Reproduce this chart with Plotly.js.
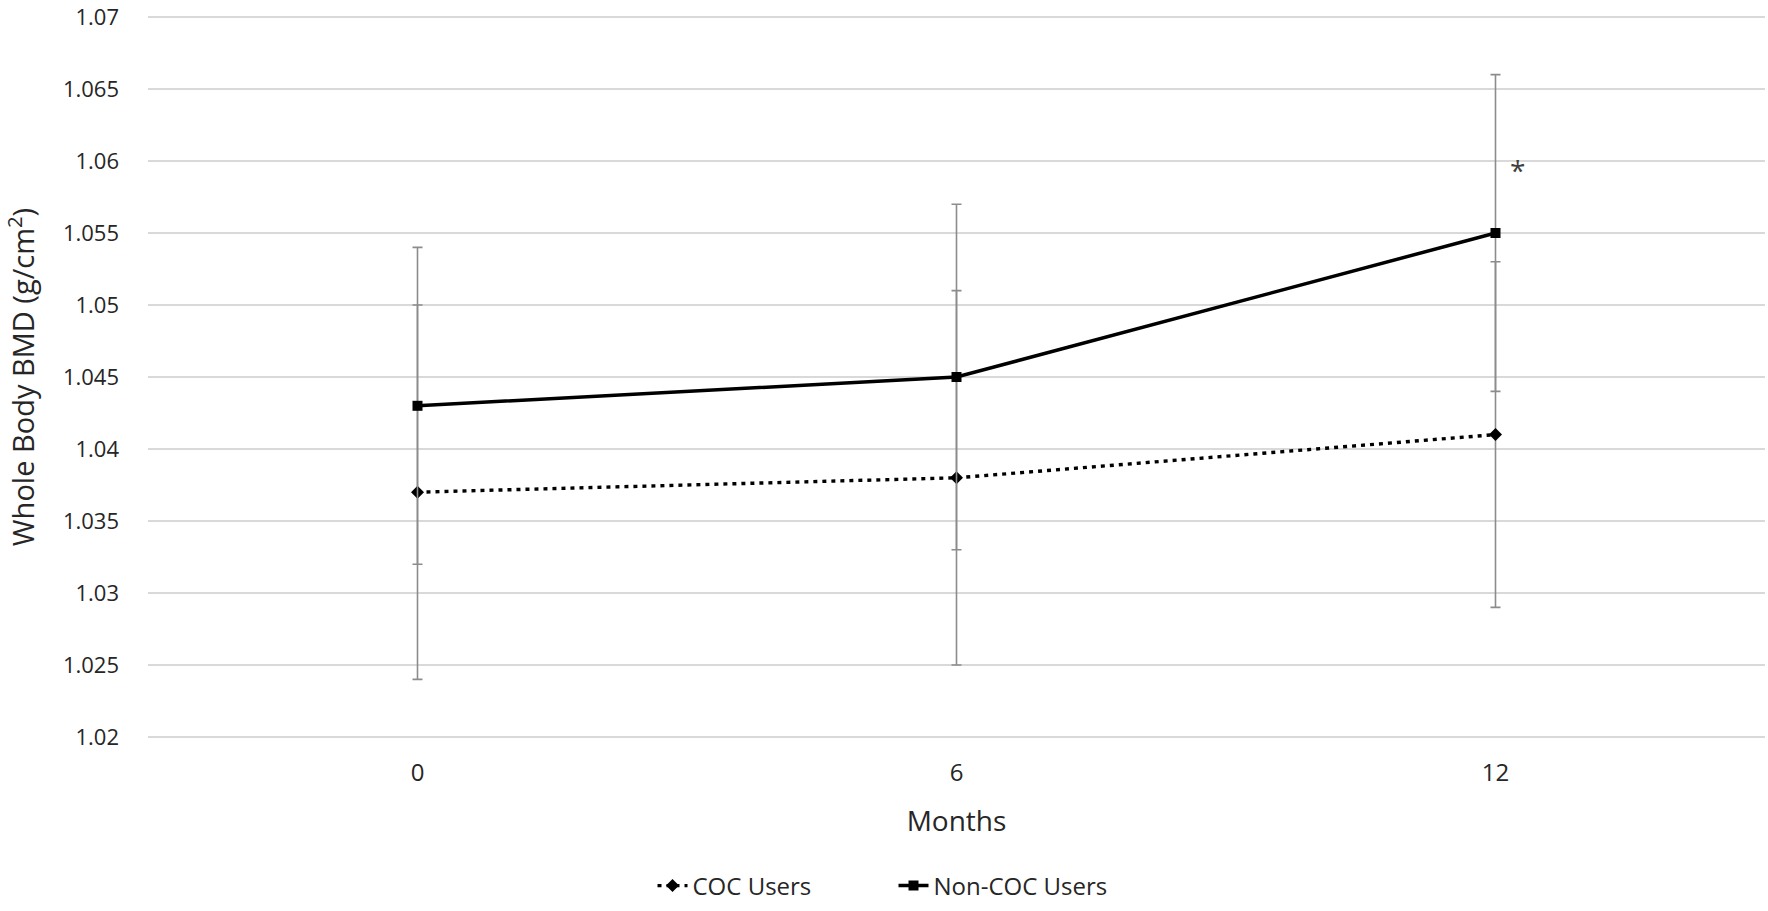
<!DOCTYPE html>
<html>
<head>
<meta charset="utf-8">
<script src="https://cdn.plot.ly/plotly-3.0.1.min.js"></script>
<style>html,body{margin:0;padding:0;background:#fff;}#chart{width:1768px;height:911px;}</style>
</head>
<body>
<div id="chart"></div>
<script>
const months = [0, 6, 12];
const monthLabels = ['0', '6', '12'];
const cocMean = [1.037, 1.038, 1.041];
const cocErr = [0.013, 0.013, 0.012];
const nonCocMean = [1.043, 1.045, 1.055];
const nonCocErr = [0.011, 0.012, 0.011];
const seriesNames = ['COC Users', 'Non-COC Users'];
const yTicks = [1.02, 1.025, 1.03, 1.035, 1.04, 1.045, 1.05, 1.055, 1.06, 1.065, 1.07];
const yTickLabels = ['1.02', '1.025', '1.03', '1.035', '1.04', '1.045', '1.05', '1.055', '1.06', '1.065', '1.07'];
const sigMonth = 12;
const sigLabel = '*';

const FONT = 'Open Sans, Lato, sans-serif';
const errStyle = {type: 'data', visible: true, color: '#8c8c8c', thickness: 1.6, width: 5};

const traces = [
  {
    x: months, y: cocMean, name: seriesNames[0], type: 'scatter', mode: 'lines+markers',
    line: {color: '#000', width: 3.4, dash: '4px,5px'},
    marker: {symbol: 'diamond', size: 10, color: '#000'},
    error_y: Object.assign({array: cocErr}, errStyle)
  },
  {
    x: months, y: nonCocMean, name: seriesNames[1], type: 'scatter', mode: 'lines+markers',
    line: {color: '#000', width: 3.5},
    marker: {symbol: 'square', size: 10, color: '#000'},
    error_y: Object.assign({array: nonCocErr}, errStyle)
  }
];

const layout = {
  width: 1768, height: 911,
  paper_bgcolor: '#fff', plot_bgcolor: '#fff',
  margin: {l: 148, r: 3, t: 16, b: 168},
  font: {family: FONT, size: 24, color: '#262626'},
  showlegend: true,
  legend: {
    orientation: 'h', x: 0.312, xanchor: 'left', y: -0.205, yanchor: 'middle',
    entrywidth: 196, entrywidthmode: 'pixels',
    font: {family: FONT, size: 24, color: '#262626'}, traceorder: 'normal'
  },
  xaxis: {
    range: [-3, 15], tickvals: months, ticktext: monthLabels,
    showgrid: false, zeroline: false, showline: false, ticks: '',
    ticklabelstandoff: 18,
    tickfont: {family: FONT, size: 24, color: '#262626'},
    title: {text: 'Months', font: {family: FONT, size: 28, color: '#262626'}, standoff: 24}
  },
  yaxis: {
    range: [1.01993, 1.07007], tickvals: yTicks, ticktext: yTickLabels,
    showgrid: true, gridcolor: '#d9d9d9', gridwidth: 1.6,
    zeroline: false, showline: false, ticks: '',
    ticklabelstandoff: 28,
    tickfont: {family: FONT, size: 22, color: '#262626'},
    title: {text: 'Whole Body BMD (g/cm<sup>2</sup>)', font: {family: FONT, size: 29, color: '#262626'}, standoff: 22}
  },
  annotations: [{
    x: sigMonth + 0.25, y: nonCocMean[2] + 0.0044, xref: 'x', yref: 'y',
    text: sigLabel, showarrow: false, font: {family: FONT, size: 28, color: '#404040'}
  }]
};

Plotly.newPlot('chart', traces, layout, {displayModeBar: false, staticPlot: true});
</script>
</body>
</html>
